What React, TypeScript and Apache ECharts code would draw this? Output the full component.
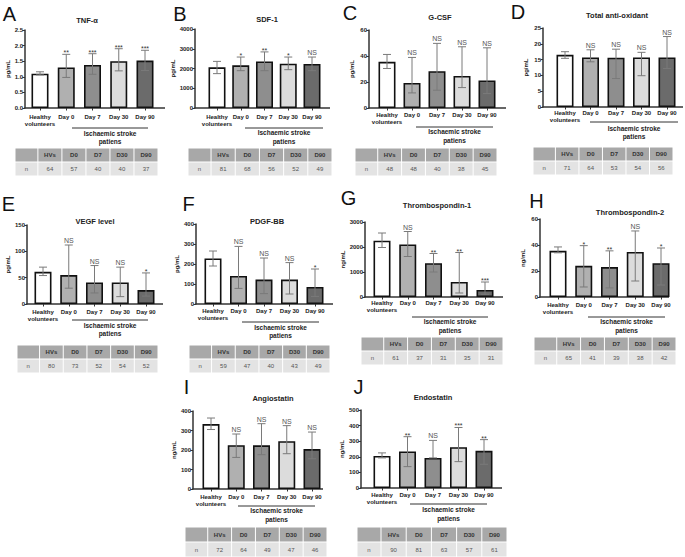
import React, { useEffect, useRef } from "react";
import * as echarts from "echarts";

const categories = ["Healthy\nvolunteers", "Day 0", "Day 7", "Day 30", "Day 90"];
const tableHeads = ["HVs", "D0", "D7", "D30", "D90"];
const groupLabel = "Ischaemic stroke\npatiens";

const tnfMean = [1.1, 1.3, 1.38, 1.5, 1.52];
const tnfLow = [1.06, 0.98, 1.08, 1.19, 1.2];
const tnfHigh = [1.16, 1.72, 1.74, 1.9, 1.85];
const tnfSig = ["", "**", "***", "***", "***"];
const tnfN = [64, 57, 40, 40, 37];

const sdfMean = [2060, 2160, 2360, 2245, 2230];
const sdfLow = [1740, 1890, 1890, 1940, 1890];
const sdfHigh = [2360, 2580, 2840, 2580, 2580];
const sdfSig = ["", "*", "**", "*", "NS"];
const sdfN = [81, 68, 56, 52, 49];

const gcsfMean = [35.5, 19.3, 28.3, 24.7, 21.2];
const gcsfLow = [30.4, 11.6, 13.7, 15.7, 11.1];
const gcsfHigh = [41.2, 38.9, 49.7, 47.1, 46.3];
const gcsfSig = ["", "NS", "NS", "NS", "NS"];
const gcsfN = [48, 48, 40, 38, 45];

const antiMean = [16.5, 15.7, 15.6, 15.7, 15.7];
const antiLow = [15.4, 14.3, 9.0, 9.9, 12.2];
const antiHigh = [17.5, 18.1, 18.3, 17.3, 22.3];
const antiSig = ["", "NS", "NS", "NS", "NS"];
const antiN = [71, 64, 53, 54, 56];

const vegfMean = [61, 55, 41, 41, 26.5];
const vegfLow = [54, 30, 21, 14, 15];
const vegfHigh = [70, 112, 73, 70, 59];
const vegfSig = ["", "NS", "NS", "NS", "*"];
const vegfN = [80, 73, 52, 54, 52];

const pdgfMean = [228, 140, 122, 122, 85];
const pdgfLow = [190, 78, 52, 50, 38];
const pdgfHigh = [265, 288, 230, 207, 175];
const pdgfSig = ["", "NS", "NS", "NS", "*"];
const pdgfN = [59, 47, 40, 43, 49];

const tsp1Mean = [2250, 2100, 1350, 600, 280];
const tsp1Low = [1980, 1620, 1000, 160, 110];
const tsp1High = [2560, 2620, 1740, 1780, 600];
const tsp1Sig = ["", "NS", "**", "**", "***"];
const tsp1N = [61, 37, 31, 35, 31];

const tsp2Mean = [35.5, 24, 23, 34.6, 26];
const tsp2Low = [34, 7.7, 7, 12.3, 9.2];
const tsp2High = [38.5, 39.5, 35.5, 50.8, 37.7];
const tsp2Sig = ["", "*", "**", "NS", "*"];
const tsp2N = [65, 41, 39, 38, 42];

const angioMean = [333, 225, 224, 245, 205];
const angioLow = [305, 162, 176, 181, 155];
const angioHigh = [364, 282, 335, 325, 292];
const angioSig = ["", "NS", "NS", "NS", "NS"];
const angioN = [72, 64, 49, 47, 46];

const endoMean = [205, 234, 193, 262, 238];
const endoLow = [193, 137, 193, 169, 152];
const endoHigh = [225, 329, 305, 388, 310];
const endoSig = ["", "**", "NS", "***", "**"];
const endoN = [90, 81, 63, 57, 61];

const FONT = "'Liberation Sans', Arial, sans-serif";
const barFills = ["#ffffff", "#b0b0b0", "#8e8e8e", "#dcdcdc", "#6b6b6b"];

const panels = [
  { letter: "A", title: "TNF-α", unit: "pg/mL", mean: tnfMean, low: tnfLow, high: tnfHigh, sig: tnfSig, n: tnfN, max: 2.5, interval: 0.5, dec: 1,
    axisX: 25, firstC: 40, lastC: 145, endX: 165, topY: 30, zeroY: 108, lm: 5.5, lx: 9.5, ly: 14, tx: 87, ty: 20,
    lineY: 128, l1: 72, l2: 148, gy: 137.5, bx: 15, by: 148, bw: 143, bh: 14 },
  { letter: "B", title: "SDF-1", unit: "pg/mL", mean: sdfMean, low: sdfLow, high: sdfHigh, sig: sdfSig, n: sdfN, max: 4000, interval: 1000, dec: 0,
    axisX: 195, firstC: 217, lastC: 312, endX: 330, topY: 29, zeroY: 108, lm: 5.5, lx: 180, ly: 14, tx: 267, ty: 19,
    lineY: 128, l1: 245, l2: 323, gy: 137, bx: 188, by: 148, bw: 144, bh: 14 },
  { letter: "C", title: "G-CSF", unit: "pg/mL", mean: gcsfMean, low: gcsfLow, high: gcsfHigh, sig: gcsfSig, n: gcsfN, max: 60, interval: 20, dec: 0,
    axisX: 369, firstC: 387, lastC: 487, endX: 506, topY: 30, zeroY: 108, lm: 3.5, lx: 350, ly: 13, tx: 440, ty: 17,
    lineY: 127, l1: 416, l2: 493, gy: 136, bx: 355, by: 148, bw: 142, bh: 14 },
  { letter: "D", title: "Total anti-oxidant", unit: "pg/mL", mean: antiMean, low: antiLow, high: antiHigh, sig: antiSig, n: antiN, max: 25, interval: 5, dec: 0,
    axisX: 543, firstC: 565, lastC: 667, endX: 683, topY: 28, zeroY: 107, lm: 2.5, lx: 518, ly: 12, tx: 617, ty: 15,
    lineY: 122, l1: 590, l2: 678, gy: 132.5, bx: 533, by: 147, bw: 140, bh: 14 },
  { letter: "E", title: "VEGF level", unit: "pg/mL", mean: vegfMean, low: vegfLow, high: vegfHigh, sig: vegfSig, n: vegfN, max: 150, interval: 50, dec: 0,
    axisX: 27, firstC: 43, lastC: 146, endX: 163, topY: 225, zeroY: 304, lm: 4.5, lx: 8.5, ly: 203.5, tx: 95, ty: 221,
    lineY: 320, l1: 72, l2: 148, gy: 329.5, bx: 17, by: 345, bw: 141, bh: 14 },
  { letter: "F", title: "PDGF-BB", unit: "pg/mL", mean: pdgfMean, low: pdgfLow, high: pdgfHigh, sig: pdgfSig, n: pdgfN, max: 400, interval: 100, dec: 0,
    axisX: 196, firstC: 213, lastC: 315, endX: 333, topY: 224, zeroY: 304, lm: 3.5, lx: 188.5, ly: 204, tx: 267, ty: 221,
    lineY: 322, l1: 242, l2: 319, gy: 331.5, bx: 189, by: 345, bw: 141, bh: 14 },
  { letter: "G", title: "Thrombospondin-1", unit: "ng/mL", mean: tsp1Mean, low: tsp1Low, high: tsp1High, sig: tsp1Sig, n: tsp1N, max: 3000, interval: 1000, dec: 0,
    axisX: 365, firstC: 382, lastC: 485, endX: 503, topY: 222, zeroY: 297, lm: 2.5, lx: 348.5, ly: 198, tx: 437, ty: 205,
    lineY: 317, l1: 412, l2: 488, gy: 326, bx: 361, by: 337, bw: 142, bh: 14 },
  { letter: "H", title: "Thrombospondin-2", unit: "ng/mL", mean: tsp2Mean, low: tsp2Low, high: tsp2High, sig: tsp2Sig, n: tsp2N, max: 60, interval: 20, dec: 0,
    axisX: 540, firstC: 558, lastC: 661, endX: 669, topY: 219, zeroY: 297, lm: 4.5, lx: 536.5, ly: 201, tx: 630, ty: 212,
    lineY: 317, l1: 588, l2: 665, gy: 326, bx: 534, by: 337, bw: 142, bh: 14 },
  { letter: "I", title: "Angiostatin", unit: "ng/mL", mean: angioMean, low: angioLow, high: angioHigh, sig: angioSig, n: angioN, max: 400, interval: 100, dec: 0,
    axisX: 193, firstC: 211, lastC: 312, endX: 323, topY: 411, zeroY: 489, lm: 4.5, lx: 186.5, ly: 387, tx: 273, ty: 398,
    lineY: 506, l1: 238, l2: 315, gy: 515, bx: 185, by: 527, bw: 142, bh: 15 },
  { letter: "J", title: "Endostatin", unit: "ng/mL", mean: endoMean, low: endoLow, high: endoHigh, sig: endoSig, n: endoN, max: 500, interval: 100, dec: 0,
    axisX: 361, firstC: 382, lastC: 484, endX: 502, topY: 410, zeroY: 488, lm: 3.5, lx: 358.5, ly: 387, tx: 433, ty: 397,
    lineY: 504, l1: 410, l2: 487, gy: 514, bx: 357, by: 527, bw: 150, bh: 15 },
];

function buildOption() {
  const grid: any[] = [];
  const xAxis: any[] = [];
  const yAxis: any[] = [];
  const series: any[] = [];
  const elements: any[] = [];

  panels.forEach((p, k) => {
    const band = (p.lastC - p.firstC) / 4;
    const gl = p.firstC - band / 2;
    grid.push({ left: gl, top: p.topY, width: band * 5, height: p.zeroY - p.topY, containLabel: false });
    xAxis.push({
      type: "category", gridIndex: k, data: categories,
      axisLine: { show: false },
      axisTick: { show: true, alignWithLabel: true, interval: 0, length: 2.5, lineStyle: { color: "#333", width: 1 } },
      axisLabel: { interval: 0, fontSize: 6, fontWeight: "bold", lineHeight: 7, color: "#222", margin: p.lm, fontFamily: FONT },
    });
    yAxis.push({
      type: "value", gridIndex: k, min: 0, max: p.max, interval: p.interval,
      offset: gl - p.axisX,
      name: p.unit, nameLocation: "middle", nameGap: 14,
      nameTextStyle: { fontSize: 6, fontWeight: "bold", color: "#222", fontFamily: FONT },
      axisLine: { show: true, lineStyle: { color: "#333", width: 1.5 } },
      axisTick: { show: true, length: 2.5, lineStyle: { color: "#333", width: 1 } },
      axisLabel: { fontSize: 6, fontWeight: "bold", color: "#222", margin: 2, fontFamily: FONT,
        formatter: (v: number) => v.toFixed(p.dec) },
      splitLine: { show: false },
    });
    series.push({
      type: "bar", xAxisIndex: k, yAxisIndex: k, barWidth: 17,
      data: p.mean.map((v, i) => ({ value: v, itemStyle: { color: barFills[i] } })),
      itemStyle: { borderColor: "#111", borderWidth: 1.6 },
      z: 2,
    });
    series.push({
      type: "custom", xAxisIndex: k, yAxisIndex: k, clip: false, z: 3,
      data: p.mean.map((_, i) => [i, p.low[i], p.high[i]]),
      encode: { x: 0, y: [1, 2] },
      renderItem: (params: any, api: any) => {
        const i = api.value(0);
        const lo = api.coord([i, api.value(1)]);
        const hi = api.coord([i, api.value(2)]);
        const x = hi[0];
        const cw = 4;
        const st = { stroke: "#7a7a7a", lineWidth: 1 };
        const children: any[] = [
          { type: "line", shape: { x1: x, y1: lo[1], x2: x, y2: hi[1] }, style: st },
          { type: "line", shape: { x1: x - cw, y1: hi[1], x2: x + cw, y2: hi[1] }, style: st },
          { type: "line", shape: { x1: x - cw, y1: lo[1], x2: x + cw, y2: lo[1] }, style: st },
        ];
        const s = p.sig[params.dataIndex];
        if (s) {
          children.push({
            type: "text", x, y: hi[1] - (s === "NS" ? 1 : -2),
            style: { text: s, textAlign: "center", textVerticalAlign: "bottom", fontSize: 7,
              fill: s === "NS" ? "#555" : "#333", fontFamily: FONT },
          });
        }
        return { type: "group", children };
      },
    });

    elements.push({ type: "text", x: p.lx, y: p.ly, style: { text: p.letter, fontSize: 20, fill: "#111", fontFamily: FONT, textAlign: "center", textVerticalAlign: "middle" } });
    elements.push({ type: "text", x: p.tx, y: p.ty, style: { text: p.title, fontSize: 7.5, fontWeight: "bold", fill: "#222", fontFamily: FONT, textAlign: "center", textVerticalAlign: "middle" } });
    elements.push({ type: "line", shape: { x1: p.axisX - 0.75, y1: p.zeroY, x2: p.endX, y2: p.zeroY }, style: { stroke: "#333", lineWidth: 1.5 } });
    elements.push({ type: "line", shape: { x1: p.l1, y1: p.lineY, x2: p.l2, y2: p.lineY }, style: { stroke: "#333", lineWidth: 1 } });
    elements.push({ type: "text", x: (p.l1 + p.l2) / 2, y: p.gy, style: { text: groupLabel, fontSize: 6.5, fontWeight: "bold", lineHeight: 8.5, fill: "#222", fontFamily: FONT, textAlign: "center", textVerticalAlign: "middle" } });
    const fw = p.bw * 0.16;
    const cw = (p.bw - fw) / 5;
    for (let r = 0; r < 2; r++) {
      for (let c = 0; c < 6; c++) {
        const x = c === 0 ? p.bx : p.bx + fw + (c - 1) * cw;
        const w = c === 0 ? fw : cw;
        const y = p.by + r * p.bh;
        elements.push({ type: "rect", shape: { x: x + 0.5, y: y + 0.5, width: w - 1, height: p.bh - 1 }, style: { fill: r === 0 ? "#a8a8a8" : "#e3e3e3" } });
        const txt = r === 0 ? (c === 0 ? "" : tableHeads[c - 1]) : (c === 0 ? "n" : String(p.n[c - 1]));
        if (txt) {
          elements.push({ type: "text", x: x + w / 2, y: y + p.bh / 2, style: { text: txt, fontSize: 6, fontWeight: r === 0 ? "bold" : "normal", fill: r === 0 ? "#333" : "#555", fontFamily: FONT, textAlign: "center", textVerticalAlign: "middle" } });
        }
      }
    }
  });

  return {
    animation: false,
    backgroundColor: "#ffffff",
    textStyle: { fontFamily: FONT },
    grid, xAxis, yAxis, series,
    graphic: { elements },
  };
}

export default function App() {
  const ref = useRef<HTMLDivElement>(null);
  useEffect(() => {
    document.body.style.margin = "0";
    const chart = echarts.init(ref.current!, undefined, { renderer: "svg" });
    chart.setOption(buildOption() as any);
    return () => chart.dispose();
  }, []);
  return <div ref={ref} style={{ width: 685, height: 557, position: "absolute", left: 0, top: 0 }} />;
}
